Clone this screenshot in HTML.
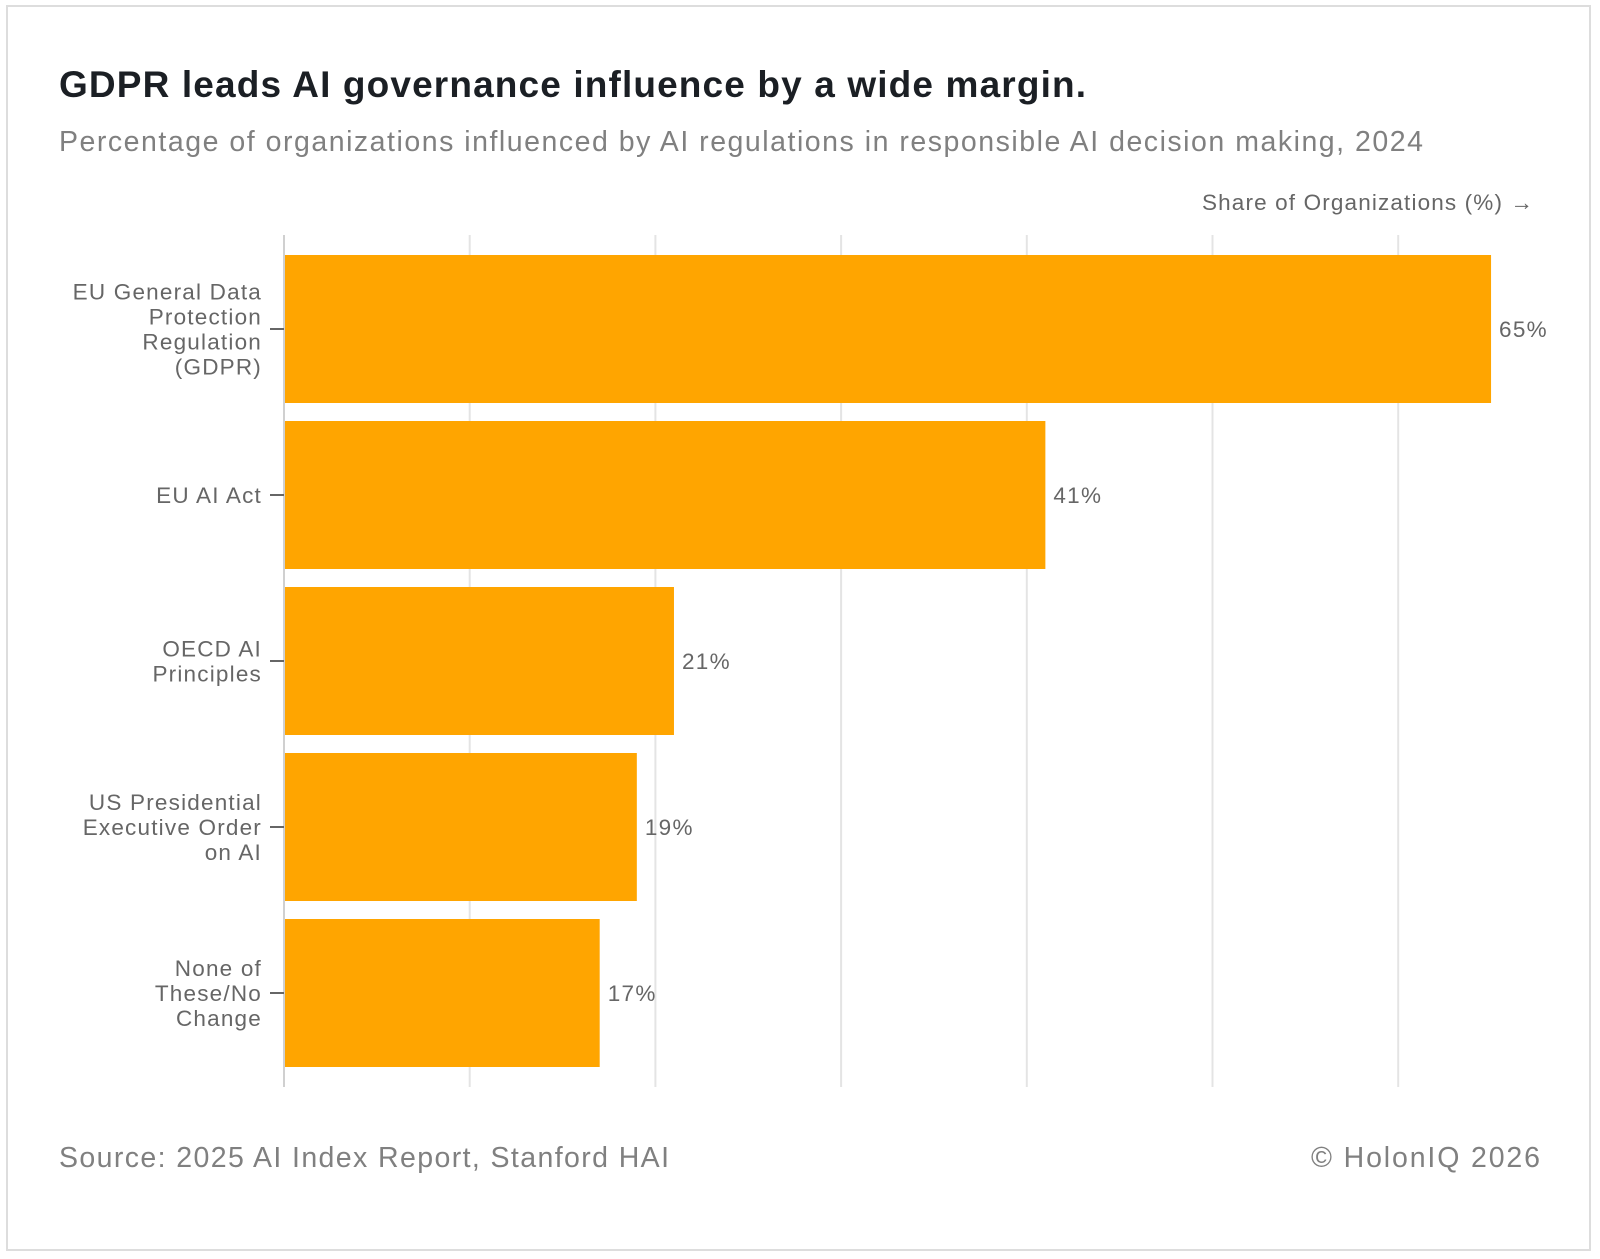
<!DOCTYPE html>
<html><head><meta charset="utf-8">
<style>
html,body{margin:0;padding:0;background:#fff;}
body{width:1600px;height:1259px;overflow:hidden;position:relative;font-family:"Liberation Sans",Arial,sans-serif;}
#frame{position:absolute;left:6px;top:5px;width:1585px;height:1246px;border:2px solid #ddd;box-sizing:border-box;}
svg{position:absolute;left:0;top:0;}
</style></head>
<body>
<div id="frame"></div>
<svg id="chart" width="1600" height="1259">
<text x="59" y="97" font-size="37" font-weight="bold" fill="#1b1f24" textLength="1027" lengthAdjust="spacing">GDPR leads AI governance influence by a wide margin.</text>
<text x="59" y="151" font-size="28.5" fill="#808080" textLength="1364" lengthAdjust="spacing">Percentage of organizations influenced by AI regulations in responsible AI decision making, 2024</text>
<text x="1202" y="210" font-size="22.5" fill="#666" textLength="331" lengthAdjust="spacing">Share of Organizations (%) →</text>
<text x="59" y="1167" font-size="28.5" fill="#808080" textLength="610" lengthAdjust="spacing">Source: 2025 AI Index Report, Stanford HAI</text>
<text x="1311" y="1167" font-size="28.5" fill="#808080" textLength="229" lengthAdjust="spacing">© HolonIQ 2026</text>
<g id="grid"></g><g id="bars"></g><g id="labels"></g>
</svg>
<script>
const categories = [["EU General Data","Protection","Regulation","(GDPR)"],["EU AI Act"],["OECD AI","Principles"],["US Presidential","Executive Order","on AI"],["None of","These/No","Change"]];
const values = [65, 41, 21, 19, 17];
const gridTicks = [0, 10, 20, 30, 40, 50, 60];

const NS = "http://www.w3.org/2000/svg";
const x0 = 284, pxPer10 = 185.7;
const xScale = v => x0 + v * pxPer10 / 10;
const bandTop = 255, step = 166, barH = 148;
const yScale = i => bandTop + i * step;
function mk(tag, attrs, parent){const e=document.createElementNS(NS,tag);for(const k in attrs)e.setAttribute(k,attrs[k]);parent.appendChild(e);return e;}
const grid=document.getElementById('grid'), bars=document.getElementById('bars'), labels=document.getElementById('labels');
gridTicks.forEach(t=>{
  const l=mk('line',{x1:xScale(t),x2:xScale(t),y1:235,y2:1087,stroke:t===0?'#d0d0d0':'#e4e4e4','stroke-width':2},grid);
  
  
});
values.forEach((v,i)=>{
  const y=yScale(i);
  const r=mk('rect',{x:x0+1,y:y,width:xScale(v)-x0-1,height:barH,fill:'#ffa500'},bars);
  
  
  const cy=y+barH/2;
  const vt=mk('text',{x:xScale(v)+8,y:cy+8,'font-size':22.5,fill:'#666','letter-spacing':1.3},labels);
  vt.textContent=v+'%';
  
  
  const tk=mk('line',{x1:270,x2:284,y1:cy,y2:cy,stroke:'#666','stroke-width':2},labels);
  
  
  const lines=categories[i], n=lines.length;
  const ct=mk('text',{x:262,'font-size':22.5,fill:'#666','text-anchor':'end','letter-spacing':1.2},labels);
  
  
  lines.forEach((s,j)=>{const ts=mk('tspan',{x:262,y:cy+8+(j-(n-1)/2)*25},ct);ts.textContent=s;});
});
</script>
</body></html>
